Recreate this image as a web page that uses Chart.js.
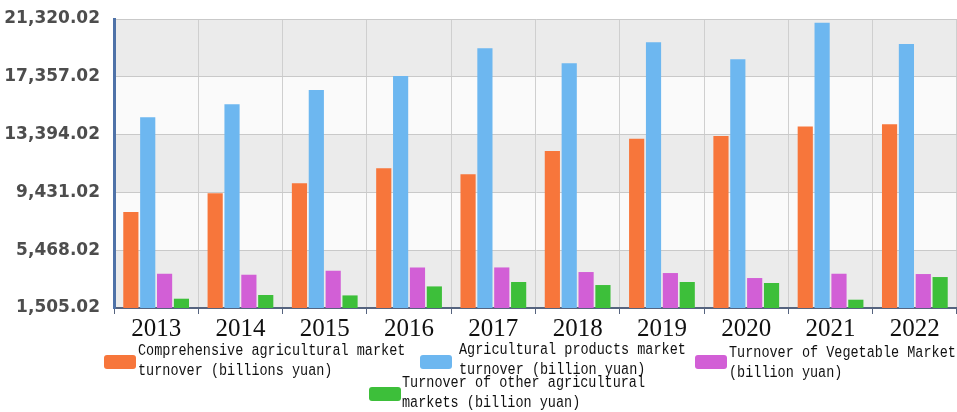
<!DOCTYPE html>
<html lang="en">
<head>
  <meta charset="UTF-8">
  <title>Agricultural market turnover 2013-2022</title>
  <script src="https://cdn.jsdelivr.net/npm/chart.js"></script>
  <style>
    html, body { margin: 0; padding: 0; background: #ffffff; }
    body { width: 957px; height: 412px; position: relative; overflow: hidden; }
    .chart-box { position: absolute; left: 0; top: 0; width: 957px; height: 340px; }
    #legend { position: absolute; left: 0; top: 0; width: 957px; height: 412px; pointer-events: none; }
    .legend-swatch { position: absolute; width: 32px; height: 14px; border-radius: 3px; }
    .legend-text {
      position: absolute; white-space: pre; color: #111111;
      font-family: "Liberation Mono", monospace; font-size: 13.5px; line-height: 16.4px;
      transform: scaleY(1.22); transform-origin: left top;
    }
  </style>
</head>
<body>
  <div class="chart-box"><canvas id="turnoverChart"></canvas></div>
  <div id="legend"></div>

  <script>
    // Turnover by year, billion yuan
    const years = ['2013', '2014', '2015', '2016', '2017', '2018', '2019', '2020', '2021', '2022'];
    const comprehensive = [8080, 9381, 10066, 11094, 10683, 12278, 13101, 13306, 13943, 14107];
    const productsMarket = [14587, 15477, 16456, 17415, 19312, 18285, 19723, 18559, 21066, 19607];
    const vegetable = [3854, 3786, 4060, 4286, 4286, 3971, 3902, 3560, 3854, 3834];
    const otherMarkets = [2142, 2395, 2368, 2985, 3286, 3080, 3286, 3218, 2074, 3628];
    const yTicks = [1505.02, 5468.02, 9431.02, 13394.02, 17357.02, 21320.02];

    const seriesNames = [
      ['Comprehensive agricultural market', 'turnover (billions yuan)'],
      ['Agricultural products market', 'turnover (billion yuan)'],
      ['Turnover of Vegetable Market', '(billion yuan)'],
      ['Turnover of other agricultural', 'markets (billion yuan)']
    ];
    const seriesColors = ['#f7763b', '#6db7f0', '#d25fd6', '#3dbf3a'];

    // where each legend entry sits under the chart (swatch x/y, text x/y)
    const legendSpots = [
      { bx: 104, by: 355, tx: 138, ty: 342 },
      { bx: 420, by: 355, tx: 459, ty: 341 },
      { bx: 695, by: 355, tx: 729, ty: 344 },
      { bx: 369, by: 387, tx: 402, ty: 374 }
    ];

    // alternating grey / white bands between the y gridlines
    const bandPlugin = {
      id: 'bands',
      beforeDraw(chart) {
        const { ctx, chartArea } = chart;
        const y = chart.scales.y;
        ctx.save();
        for (let i = 0; i < yTicks.length - 1; i++) {
          const top = y.getPixelForValue(yTicks[i + 1]);
          const bottom = y.getPixelForValue(yTicks[i]);
          ctx.fillStyle = i % 2 === 0 ? '#ebebeb' : '#fafafa';
          ctx.fillRect(chartArea.left, top, chartArea.right - chartArea.left, bottom - top);
        }
        ctx.restore();
      }
    };

    const datasets = [comprehensive, productsMarket, vegetable, otherMarkets].map((values, i) => ({
      label: seriesNames[i].join(' '),
      data: values,
      backgroundColor: seriesColors[i],
      borderWidth: 0
    }));

    const chart = new Chart(document.getElementById('turnoverChart'), {
      type: 'bar',
      data: { labels: years, datasets: datasets },
      options: {
        responsive: true,
        maintainAspectRatio: false,
        animation: false,
        layout: { padding: { top: 19, right: 0, left: 0, bottom: 0 } },
        plugins: {
          legend: { display: false },
          tooltip: { enabled: false }
        },
        scales: {
          x: {
            grid: { color: '#cfcfcf', offset: true, tickLength: 6, tickColor: '#56647f' },
            border: { color: '#56647f', width: 2 },
            ticks: {
              color: '#111111',
              padding: 0,
              font: { family: '"Liberation Serif", serif', size: 25 }
            },
            afterFit(scale) { scale.height = 32; }
          },
          y: {
            min: yTicks[0],
            max: yTicks[yTicks.length - 1],
            afterBuildTicks(scale) {
              scale.ticks = yTicks.map(v => ({ value: v }));
            },
            grid: { color: '#c9c9c9', drawTicks: false },
            border: { color: '#4f72a8', width: 3 },
            ticks: {
              color: '#4d4d4d',
              padding: 14,
              font: { family: '"DejaVu Sans", sans-serif', size: 17, weight: 'bold' },
              callback: v => Number(v).toLocaleString('en-US', { minimumFractionDigits: 2, maximumFractionDigits: 2 })
            },
            afterFit(scale) {
              scale.width = 114;
              // let the layout padding alone decide the top of the plot
              scale.paddingTop = 0;
              scale.paddingBottom = 0;
            }
          }
        }
      },
      plugins: [bandPlugin]
    });

    // HTML legend built from the chart's own datasets
    const legendBox = document.getElementById('legend');
    chart.data.datasets.forEach((ds, i) => {
      const spot = legendSpots[i];
      const sw = document.createElement('div');
      sw.className = 'legend-swatch';
      sw.style.left = spot.bx + 'px';
      sw.style.top = spot.by + 'px';
      sw.style.background = ds.backgroundColor;
      legendBox.appendChild(sw);

      const txt = document.createElement('div');
      txt.className = 'legend-text';
      txt.style.left = spot.tx + 'px';
      txt.style.top = spot.ty + 'px';
      txt.textContent = seriesNames[i].join('\n');
      legendBox.appendChild(txt);
    });
  </script>
</body>
</html>
